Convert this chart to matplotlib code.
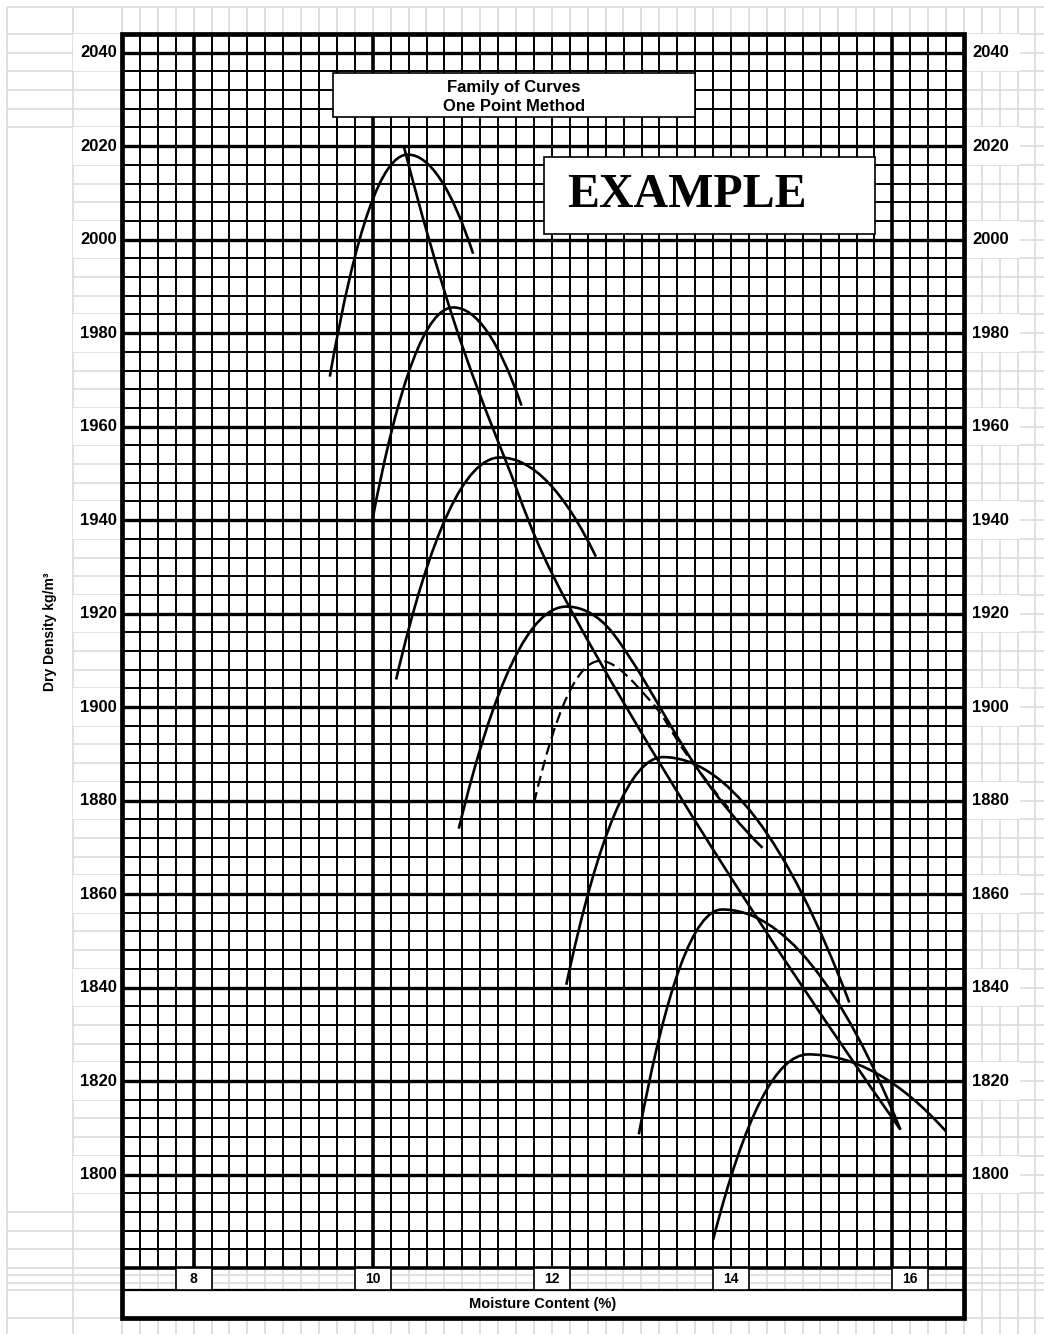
import numpy as np
import matplotlib
matplotlib.use("Agg")
import matplotlib.pyplot as plt
from matplotlib.path import Path
from matplotlib.patches import PathPatch, Rectangle

plt.rcParams['font.family'] = ['Liberation Sans', 'DejaVu Sans']

# --- Données ---
moisture_ticks = [8, 10, 12, 14, 16]
density_ticks = list(range(1800, 2041, 20))

# courbes de compactage (teneur en eau %, densité sèche kg/m3), du sommet vers le bas
curve_a_x = [9.52, 10.39, 11.12]
curve_a_y = [1970.7, 2018.2, 1997.0]
curve_b_x = [9.99, 10.90, 11.66]
curve_b_y = [1939.5, 1985.5, 1964.5]
curve_c_x = [10.26, 11.42, 12.49]
curve_c_y = [1905.9, 1953.4, 1932.2]
curve_d_x = [10.96, 12.16, 12.54, 12.91, 13.65, 14.35]
curve_d_y = [1874.0, 1921.5, 1918.6, 1909.4, 1886.1, 1869.9]
curve_e_x = [12.16, 13.24, 15.32]
curve_e_y = [1840.6, 1889.3, 1836.8]
curve_f_x = [12.97, 13.90, 15.89]
curve_f_y = [1808.6, 1856.7, 1809.6]
curve_g_x = [13.80, 14.86, 16.40]
curve_g_y = [1786.1, 1825.7, 1809.2]

# courbe en pointillés (point unique)
dashed_x = [11.80, 12.54, 13.10, 13.50, 13.97]
dashed_y = [1879.5, 1909.9, 1901.3, 1890.0, 1878.4]

# ligne des optimums
optimum_x = [10.35, 10.90, 11.48, 12.15, 13.80, 15.89]
optimum_y = [2019.7, 1982.9, 1952.9, 1923.0, 1869.5, 1809.6]

X_MIN, X_MAX = 7.2, 16.6
Y_TOP, Y_GRID_BOTTOM = 2044, 1780

LIGHT = '#d9d9d9'


def smooth_path(xs, ys, peak=True):
    # spline d'Hermite passant par les points, tangente horizontale au sommet
    pts = np.column_stack([xs, ys]).astype(float)
    n = len(pts)
    ipk = int(np.argmax(pts[:, 1])) if peak else -1
    verts = [pts[0]]
    codes = [Path.MOVETO]
    for a in range(n - 1):
        b = a + 1

        def inner(j):
            if j == ipk:
                return np.array([pts[b, 0] - pts[a, 0], 0.0])
            if 0 < j < n - 1:
                return (pts[j + 1] - pts[j - 1]) / 2
            return None

        ta, tb = inner(a), inner(b)
        chord = pts[b] - pts[a]
        if ta is None:
            ta = 2 * chord - tb
        if tb is None:
            tb = 2 * chord - ta
        verts += [pts[a] + ta / 3, pts[b] - tb / 3, pts[b]]
        codes += [Path.CURVE4] * 3
    return Path(verts, codes)


fig = plt.figure(figsize=(10.44, 13.34), dpi=100)

# fond: quadrillage de la feuille de calcul
bg = fig.add_axes([0, 0, 1, 1])
bg.set_xlim(0, 1044)
bg.set_ylim(1334, 0)
bg.set_axis_off()
sheet_cols = [7, 73] + [122 + 17.91 * k for k in range(52)]
sheet_rows = [7] + [34 + 18.697 * k for k in range(67)] + [1275, 1283, 1290, 1318]
for c in sheet_cols:
    bg.vlines(c, 7, 1334, color=LIGHT, lw=1.1)
for r in sheet_rows:
    x_start = 73 if 128 < r < 1195 else 7
    bg.hlines(r, x_start, 1044, color=LIGHT, lw=1.1)
bg.text(50, 632, 'Dry Density kg/m³', rotation=90, ha='center', va='center',
        fontsize=10, fontweight='bold')

# zone du graphique
ax = fig.add_axes([122 / 1044, 16 / 1334, 842 / 1044, 1284 / 1334])
ax.set_axis_off()
ax.set_xlim(X_MIN, X_MAX)
y_bottom = Y_GRID_BOTTOM - 50 / 4.674
ax.set_ylim(y_bottom, Y_TOP)

ax.add_patch(Rectangle((X_MIN, Y_GRID_BOTTOM), X_MAX - X_MIN, Y_TOP - Y_GRID_BOTTOM,
                       fc='white', ec='none', zorder=0))
row_lbl_lo = (1318 - 1290) / 1284
row_lbl_hi = (1318 - 1268) / 1284
xt = ax.get_xaxis_transform()
ax.add_patch(Rectangle((X_MIN, 0), X_MAX - X_MIN, row_lbl_lo, transform=xt,
                       fc='white', ec='none', zorder=0))

# quadrillage noir
for v in range(1784, 2044, 4):
    ax.hlines(v, X_MIN, X_MAX, color='black', lw=2.4 if v % 20 == 0 else 1.4, zorder=1)
for k in range(1, 47):
    x = round(X_MIN + 0.2 * k, 1)
    thick = x in (8.0, 10.0, 15.8)
    ax.vlines(x, Y_GRID_BOTTOM, Y_TOP, color='black', lw=2.6 if thick else 1.4, zorder=1)

# lignes sous la grille
ax.hlines(Y_GRID_BOTTOM, X_MIN, X_MAX, color='black', lw=2.6, zorder=2)
ax.plot([X_MIN, X_MAX], [row_lbl_lo, row_lbl_lo], transform=xt, color='black', lw=1.6,
        zorder=2)
ax.add_patch(Rectangle((X_MIN, y_bottom), X_MAX - X_MIN, Y_TOP - y_bottom, fill=False,
                       ec='black', lw=3.4, zorder=6, clip_on=False))

# étiquettes de l'axe x
for t in moisture_ticks:
    ax.add_patch(Rectangle((t - 0.2, row_lbl_lo), 0.4, row_lbl_hi - row_lbl_lo, transform=xt,
                           fc='white', ec='black', lw=1.2, zorder=3))
    ax.text(t, (1318 - 1279) / 1284, str(t), transform=xt, ha='center', va='center',
            fontsize=10, fontweight='bold', zorder=4)
ax.text(0.5, (1318 - 1304) / 1284, 'Moisture Content (%)', transform=ax.transAxes,
        ha='center', va='center', fontsize=10.5, fontweight='bold')

# étiquettes de l'axe y (gauche et droite)
yt = ax.get_yaxis_transform()
for v in density_ticks:
    ax.add_patch(Rectangle((-49 / 842, v - 4), 49 / 842, 8, transform=yt, fc='white',
                           ec='none', zorder=0, clip_on=False))
    ax.add_patch(Rectangle((1, v - 4), 56 / 842, 8, transform=yt, fc='white',
                           ec='none', zorder=0, clip_on=False))
    ax.text(-0.006, v, str(v), transform=yt, ha='right', va='center', fontsize=12,
            fontweight='bold')
    ax.text(1.0095, v, str(v), transform=yt, ha='left', va='center', fontsize=12,
            fontweight='bold')

# courbes
curves = [(curve_a_x, curve_a_y), (curve_b_x, curve_b_y), (curve_c_x, curve_c_y),
          (curve_d_x, curve_d_y), (curve_e_x, curve_e_y), (curve_f_x, curve_f_y),
          (curve_g_x, curve_g_y)]
for cx, cy in curves:
    ax.add_patch(PathPatch(smooth_path(cx, cy), fill=False, ec='black', lw=1.9, zorder=3))

ax.add_patch(PathPatch(smooth_path(dashed_x, dashed_y), fill=False, ec='black', lw=1.6,
                       ls=(0, (5, 2.5)), zorder=3))

ax.add_patch(PathPatch(smooth_path(optimum_x, optimum_y, peak=False), fill=False, ec='black',
                       lw=1.9, zorder=3))

# cadres de titre
ax.add_patch(Rectangle((0.2506, 0.9354), 0.4299, 0.0342, transform=ax.transAxes,
                       fc='white', ec='black', lw=1.2, zorder=5))
ax.text(0.4656, 0.9587, 'Family of Curves', transform=ax.transAxes, ha='center',
        va='center', fontsize=12, fontweight='bold', zorder=6)
ax.text(0.4656, 0.9439, 'One Point Method', transform=ax.transAxes, ha='center',
        va='center', fontsize=12, fontweight='bold', zorder=6)

ax.add_patch(Rectangle((0.5012, 0.8442), 0.3931, 0.0600, transform=ax.transAxes,
                       fc='white', ec='black', lw=1.2, zorder=5))
ax.text(0.5285, 0.8745, 'EXAMPLE', transform=ax.transAxes, ha='left', va='center',
        fontsize=34.5, fontweight='bold', family='Liberation Serif', zorder=6)

fig.savefig('out.png', dpi=100)
